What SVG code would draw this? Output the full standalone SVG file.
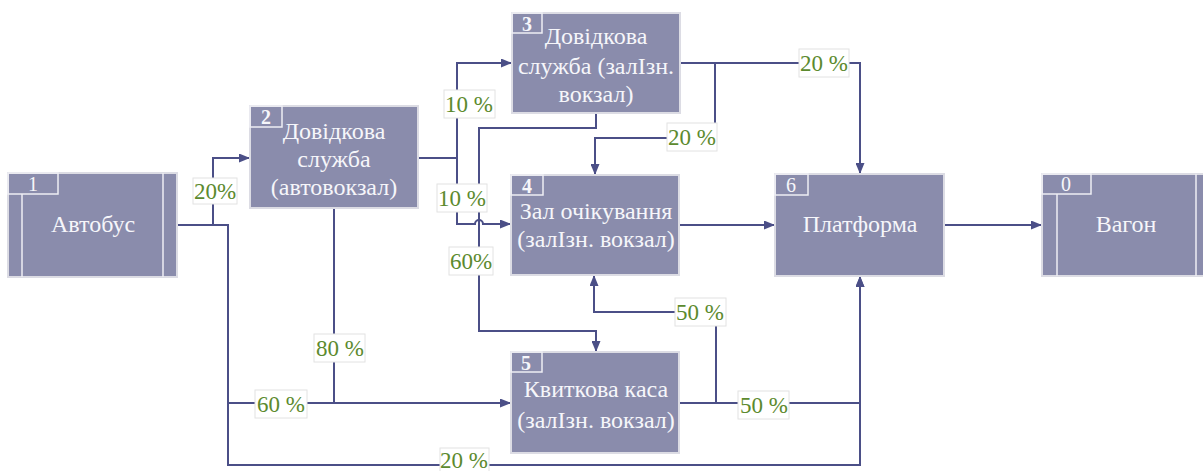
<svg xmlns="http://www.w3.org/2000/svg" width="1203" height="471" viewBox="0 0 1203 471">
<style>
.node{fill:#8a8cac;stroke:#dcdce4;stroke-width:2}
.tab{fill:none;stroke:#eeeef4;stroke-width:1.5}
.inner{stroke:#eeeef4;stroke-width:1.5}
.nt{font-family:'Liberation Serif','Times New Roman','DejaVu Serif',serif;font-size:24px;fill:#f6f6fa;text-anchor:middle}
.num{font-family:'Liberation Serif','Times New Roman','DejaVu Serif',serif;font-size:20px;fill:#f6f6fa;text-anchor:middle}
.c{fill:none;stroke:#4b4f87;stroke-width:2}
.lb{fill:#ffffff;stroke:#e2e2e2;stroke-width:1}
.lt{font-family:'Liberation Serif','Times New Roman','DejaVu Serif',serif;font-size:23px;fill:#5c8a2e;text-anchor:middle}
</style>
<defs>
<marker id="arr" markerUnits="userSpaceOnUse" markerWidth="11" markerHeight="9" refX="11" refY="4.5" orient="auto">
<path d="M0,0 L11,4.5 L0,9 z" fill="#4b4f87"/>
</marker>
</defs>
<rect width="1203" height="471" fill="#ffffff"/>
<g id="connectors">
<path class="c" d="M177,225 H213 V158 H250" marker-end="url(#arr)"/>
<path class="c" d="M213,225 H228 V403 H511" marker-end="url(#arr)"/>
<path class="c" d="M228,403 V465 H860 V276" marker-end="url(#arr)"/>
<path class="c" d="M334,208 V403"/>
<path class="c" d="M418,158 H457 V63 H512" marker-end="url(#arr)"/>
<path class="c" d="M457,158 V224 H475 A4,4 0 0 1 483,224 H511" marker-end="url(#arr)"/>
<path class="c" d="M596,113 V128 H479 V331 H596 V352" marker-end="url(#arr)"/>
<path class="c" d="M680,63 H860 V174" marker-end="url(#arr)"/>
<path class="c" d="M715,63 V138 H595 V175" marker-end="url(#arr)"/>
<path class="c" d="M679,225 H775" marker-end="url(#arr)"/>
<path class="c" d="M944,225 H1042" marker-end="url(#arr)"/>
<path class="c" d="M679,403 H860 V276" marker-end="url(#arr)"/>
<path class="c" d="M716,403 V312 H594 V275" marker-end="url(#arr)"/>
<g id="labels">
<rect class="lb" x="193" y="178" width="44" height="26"/><text class="lt" x="215" y="199">20%</text>
<rect class="lb" x="444" y="90" width="51" height="28"/><text class="lt" x="469" y="112">10 %</text>
<rect class="lb" x="437" y="184" width="50" height="28"/><text class="lt" x="462" y="206">10 %</text>
<rect class="lb" x="449" y="247" width="44" height="28"/><text class="lt" x="471" y="269">60%</text>
<rect class="lb" x="799" y="49" width="50" height="28"/><text class="lt" x="824" y="71">20 %</text>
<rect class="lb" x="667" y="123" width="50" height="28"/><text class="lt" x="692" y="145">20 %</text>
<rect class="lb" x="675" y="298" width="51" height="28"/><text class="lt" x="700" y="320">50 %</text>
<rect class="lb" x="738" y="391" width="51" height="28"/><text class="lt" x="764" y="413">50 %</text>
<rect class="lb" x="314" y="334" width="51" height="28"/><text class="lt" x="340" y="356">80 %</text>
<rect class="lb" x="255" y="390" width="52" height="28"/><text class="lt" x="281" y="412">60 %</text>
<rect class="lb" x="440" y="448" width="49" height="26"/><text class="lt" x="464" y="468">20 %</text>
</g>
</g>
<g id="node1">
<rect class="node" x="8" y="173" width="169" height="104"/>
<line class="inner" x1="22" y1="194" x2="22" y2="277"/>
<line class="inner" x1="163" y1="173" x2="163" y2="277"/>
<rect class="tab" x="8" y="173" width="50" height="21"/>
<text class="num" x="33" y="191">1</text>
<text class="nt" x="93" y="232">Автобус</text>
</g>
<g id="node2">
<rect class="node" x="250" y="106" width="168" height="102"/>
<rect class="tab" x="250" y="106" width="32" height="21"/>
<text class="num" x="266" y="124" font-weight="bold">2</text>
<text class="nt" x="334" y="139">Довідкова</text>
<text class="nt" x="334" y="167">служба</text>
<text class="nt" x="334" y="195">(автовокзал)</text>
</g>
<g id="node3">
<rect class="node" x="512" y="13" width="168" height="100"/>
<rect class="tab" x="512" y="13" width="30" height="20"/>
<text class="num" x="527" y="31" font-weight="bold">3</text>
<text class="nt" x="596" y="44">Довідкова</text>
<text class="nt" x="596" y="74">служба (залІзн.</text>
<text class="nt" x="596" y="102">вокзал)</text>
</g>
<g id="node4">
<rect class="node" x="511" y="175" width="168" height="100"/>
<rect class="tab" x="511" y="175" width="32" height="20"/>
<text class="num" x="527" y="193" font-weight="bold">4</text>
<text class="nt" x="596" y="219">Зал очікування</text>
<text class="nt" x="596" y="247">(залІзн. вокзал)</text>
</g>
<g id="node5">
<rect class="node" x="511" y="352" width="168" height="101"/>
<rect class="tab" x="511" y="352" width="31" height="20"/>
<text class="num" x="526" y="370" font-weight="bold">5</text>
<text class="nt" x="596" y="397">Квиткова каса</text>
<text class="nt" x="596" y="428">(залІзн. вокзал)</text>
</g>
<g id="node6">
<rect class="node" x="775" y="174" width="169" height="102"/>
<rect class="tab" x="775" y="174" width="33" height="21"/>
<text class="num" x="791" y="192">6</text>
<text class="nt" x="860" y="232">Платформа</text>
</g>
<g id="node0">
<rect class="node" x="1042" y="174" width="169" height="102"/>
<line class="inner" x1="1057" y1="194" x2="1057" y2="276"/>
<line class="inner" x1="1196" y1="174" x2="1196" y2="276"/>
<rect class="tab" x="1042" y="174" width="49" height="20"/>
<text class="num" x="1066" y="191">0</text>
<text class="nt" x="1126" y="232">Вагон</text>
</g>
</svg>
